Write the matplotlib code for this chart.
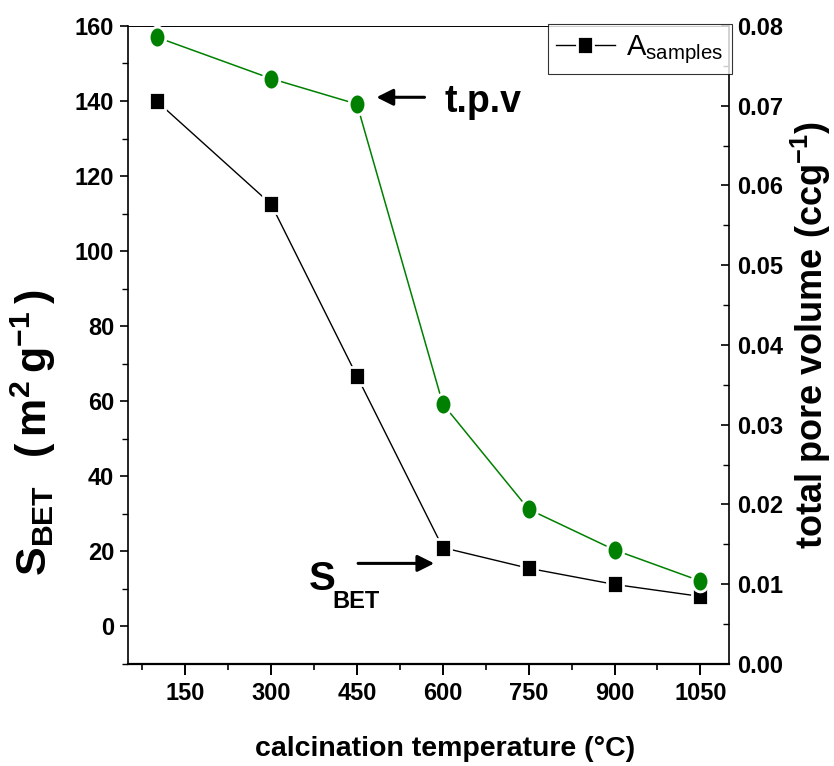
import matplotlib

matplotlib.use("Agg")
import matplotlib.pyplot as plt
from matplotlib.path import Path
from matplotlib.ticker import FormatStrFormatter, MultipleLocator


TEMPERATURE = [100, 300, 450, 600, 750, 900, 1050]
S_BET = [140, 112.5, 66.7, 21, 15.5, 11.2, 8.0]
PORE_VOLUME = [0.0786, 0.0734, 0.0702, 0.0326, 0.0194, 0.0143, 0.0104]

GREEN = "#008000"
NARROW = ["Liberation Sans Narrow", "Liberation Sans", "DejaVu Sans"]
WIDE = ["Liberation Sans", "DejaVu Sans"]


def stretched(path: Path, aspect: float) -> Path:
    # the source image is squeezed horizontally, so the markers are taller than wide
    verts = path.vertices.copy()
    verts[:, 0] *= aspect
    return Path(verts, path.codes)


SQUARE = stretched(Path([(-1, -1), (1, -1), (1, 1), (-1, 1), (-1, -1)], closed=True), 0.85)
ELLIPSE = stretched(Path.unit_circle(), 0.8)


def style_axes(ax, ax2) -> None:
    ax.set_xlim(50, 1100)
    ax.set_ylim(-10, 160)
    ax2.set_ylim(0, 0.08)

    ax.xaxis.set_major_locator(MultipleLocator(150))
    ax.xaxis.set_minor_locator(MultipleLocator(75))
    ax.yaxis.set_major_locator(MultipleLocator(20))
    ax.yaxis.set_minor_locator(MultipleLocator(10))
    ax2.yaxis.set_major_locator(MultipleLocator(0.01))
    ax2.yaxis.set_minor_locator(MultipleLocator(0.005))
    ax2.yaxis.set_major_formatter(FormatStrFormatter("%.2f"))

    ax.tick_params(axis="x", which="major", direction="out", length=8, width=1.4, pad=5)
    ax.tick_params(axis="x", which="minor", direction="out", length=4.5, width=1.2)
    ax.tick_params(axis="y", which="major", direction="out", length=6, width=1.2, pad=4)
    ax.tick_params(axis="y", which="minor", direction="out", length=4, width=1.0)
    ax2.tick_params(axis="y", which="major", direction="in", length=6, width=1.2, pad=6)
    ax2.tick_params(axis="y", which="minor", direction="in", length=4, width=1.0)

    for a in (ax, ax2):
        for label in a.get_xticklabels() + a.get_yticklabels():
            label.set_fontfamily(NARROW)
            label.set_fontweight("bold")
            label.set_fontsize(17)

    ax.spines["left"].set_linewidth(1.2)
    ax.spines["bottom"].set_linewidth(1.6)
    ax.spines["top"].set_linewidth(0.7)
    ax.spines["right"].set_visible(False)
    ax2.spines["right"].set_linewidth(1.2)
    for side in ("left", "bottom", "top"):
        ax2.spines[side].set_visible(False)


def main() -> None:
    fig = plt.figure(figsize=(8.34, 7.66), dpi=100)
    ax = fig.add_axes([0.1535, 0.1332, 0.7206, 0.8329])
    ax2 = ax.twinx()

    (sbet_line,) = ax.plot(
        TEMPERATURE, S_BET, color="black", linewidth=1.0,
        marker=SQUARE, markersize=13, markerfacecolor="black",
        markeredgecolor="white", markeredgewidth=2, label="A samples",
    )
    ax2.plot(
        TEMPERATURE, PORE_VOLUME, color=GREEN, linewidth=1.1,
        marker=ELLIPSE, markersize=15, markerfacecolor=GREEN,
        markeredgecolor="white", markeredgewidth=2,
    )

    style_axes(ax, ax2)

    ax.set_xlabel("calcination temperature (°C)", fontfamily=NARROW, fontweight="bold",
                  fontsize=20.5, va="center")
    ax.xaxis.set_label_coords(0.527, -0.133)
    ax.set_ylabel(r"$\mathregular{S_{BET}\ \ (\,m^{2}\,g^{-1}\,)}$", fontfamily=WIDE,
                  fontweight="bold", fontsize=31, va="center")
    ax.yaxis.set_label_coords(-0.158, 0.362)
    ax2.set_ylabel(r"total pore volume (ccg$\mathregular{^{-1}}$)", fontfamily=WIDE,
                   fontweight="bold", fontsize=26, va="center")
    ax2.yaxis.set_label_coords(1.136, 0.516)

    arrow = dict(arrowstyle="-|>,head_length=0.5,head_width=0.25", color="black",
                 lw=2.2, mutation_scale=20, shrinkA=0, shrinkB=0)
    ax.annotate("", xy=(484, 141), xytext=(568, 141), arrowprops=arrow)
    ax.text(603, 137, "t.p.v", fontfamily=NARROW, fontweight="bold", fontsize=27,
            ha="left", va="baseline")
    ax.annotate("", xy=(585, 16.8), xytext=(452, 16.8), arrowprops=arrow)
    ax.text(366, 9.6, "S", fontfamily=NARROW, fontweight="bold", fontsize=29,
            ha="left", va="baseline")
    ax.text(407, 4.8, "BET", fontfamily=NARROW, fontweight="bold", fontsize=17,
            ha="left", va="baseline")

    legend = ax2.legend(
        [sbet_line], [r"A$\mathregular{_{samples}}$"], loc="upper right",
        bbox_to_anchor=(1.005, 1.003), borderaxespad=0, fancybox=False,
        prop={"family": NARROW, "size": 21}, handlelength=2.0, handletextpad=0.4,
        borderpad=0.3,
    )
    legend.get_frame().set_edgecolor("black")
    legend.get_frame().set_linewidth(0.8)

    fig.savefig("out.png", dpi=100)
    plt.close(fig)


if __name__ == "__main__":
    main()
